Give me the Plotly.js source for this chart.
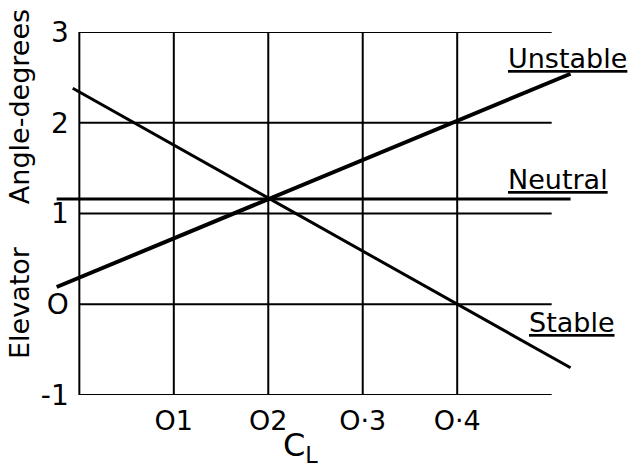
<!DOCTYPE html>
<html>
<head>
<meta charset="utf-8">
<script src="https://cdn.plot.ly/plotly-3.0.1.min.js"></script>
<style>html,body{margin:0;padding:0;background:#fff;}#chart{width:634px;height:470px;}</style>
</head>
<body>
<div id="chart"></div>
<script>
// Tick values and labels
const xTickVals = [0.1, 0.2, 0.3, 0.4];
const xTickText = ['O1', 'O2', 'O·3', 'O·4'];
const yTickVals = [-1, 0, 1, 2, 3];
const yTickText = ['-1', 'O', '1', '2', '3'];

// Grid
const gridXVals = [0, 0.1, 0.2, 0.3, 0.4];
const gridYVals = [-1, 0, 1, 2, 3];
const gridXExtent = [0, 0.5];
const gridYExtent = [-1, 3];

// Series (C_L vs elevator angle)
const unstableX = [-0.024, 0.52];
const unstableY = [0.19, 2.54];
const neutralX = [-0.024, 0.52];
const neutralY = [1.16, 1.16];
const stableX = [-0.007, 0.52];
const stableY = [2.38, -0.70];

const FONT = 'DejaVu Sans, sans-serif';
const traces = [];

gridXVals.forEach(v => traces.push({
  x: [v, v], y: gridYExtent, mode: 'lines', type: 'scatter',
  line: {color: '#000', width: 2}, hoverinfo: 'skip', showlegend: false
}));
gridYVals.forEach(v => traces.push({
  x: gridXExtent, y: [v, v], mode: 'lines', type: 'scatter',
  line: {color: '#000', width: 2}, hoverinfo: 'skip', showlegend: false
}));

traces.push({x: unstableX, y: unstableY, mode: 'lines', type: 'scatter', name: 'Unstable',
  line: {color: '#000', width: 4}, showlegend: false});
traces.push({x: neutralX, y: neutralY, mode: 'lines', type: 'scatter', name: 'Neutral',
  line: {color: '#000', width: 3}, showlegend: false});
traces.push({x: stableX, y: stableY, mode: 'lines', type: 'scatter', name: 'Stable',
  line: {color: '#000', width: 3}, showlegend: false});

const L = 51, R = 54, T = 32, B = 75;
const pw = 634 - L - R, ph = 470 - T - B;
const px = v => (v - L) / pw;
const py = v => (470 - B - v) / ph;

const layout = {
  width: 634, height: 470,
  margin: {l: L, r: R, t: T, b: B, pad: 0},
  paper_bgcolor: '#fff', plot_bgcolor: '#fff',
  showlegend: false,
  font: {family: FONT, color: '#000', size: 28},
  xaxis: {
    range: [-0.03, 0.53], showgrid: false, zeroline: false, showline: false,
    tickvals: xTickVals, ticktext: xTickText, ticks: 'outside', ticklen: 2,
    tickcolor: 'rgba(0,0,0,0)', tickfont: {family: FONT, size: 27, color: '#000'}
  },
  yaxis: {
    range: [-1, 3], showgrid: false, zeroline: false, showline: false,
    anchor: 'free', position: 0.03 / 0.56,
    tickvals: yTickVals, ticktext: yTickText, ticks: 'outside', ticklen: 5,
    tickcolor: 'rgba(0,0,0,0)', tickfont: {family: FONT, size: 28, color: '#000'}
  },
  annotations: [
    {text: 'Elevator\u00a0\u00a0\u00a0\u00a0\u00a0Angle-degrees', xref: 'paper', yref: 'paper',
     x: px(19), y: py(184), textangle: -90, showarrow: false,
     xanchor: 'center', yanchor: 'middle', font: {family: FONT, size: 27, color: '#000'}},
    {text: 'C<sub>L</sub>', xref: 'paper', yref: 'paper', x: px(300), y: py(447),
     showarrow: false, xanchor: 'center', yanchor: 'middle',
     font: {family: FONT, size: 32, color: '#000'}},
    {text: '<u>Unstable</u>', xref: 'paper', yref: 'paper', x: px(506), y: py(59),
     showarrow: false, xanchor: 'left', yanchor: 'middle', font: {family: FONT, size: 27, color: '#000'}},
    {text: '<u>Neutral</u>', xref: 'paper', yref: 'paper', x: px(506), y: py(179),
     showarrow: false, xanchor: 'left', yanchor: 'middle', font: {family: FONT, size: 27, color: '#000'}},
    {text: '<u>Stable</u>', xref: 'paper', yref: 'paper', x: px(527), y: py(322),
     showarrow: false, xanchor: 'left', yanchor: 'middle', font: {family: FONT, size: 27, color: '#000'}}
  ]
};

Plotly.newPlot('chart', traces, layout, {staticPlot: true, displayModeBar: false});
</script>
</body>
</html>
